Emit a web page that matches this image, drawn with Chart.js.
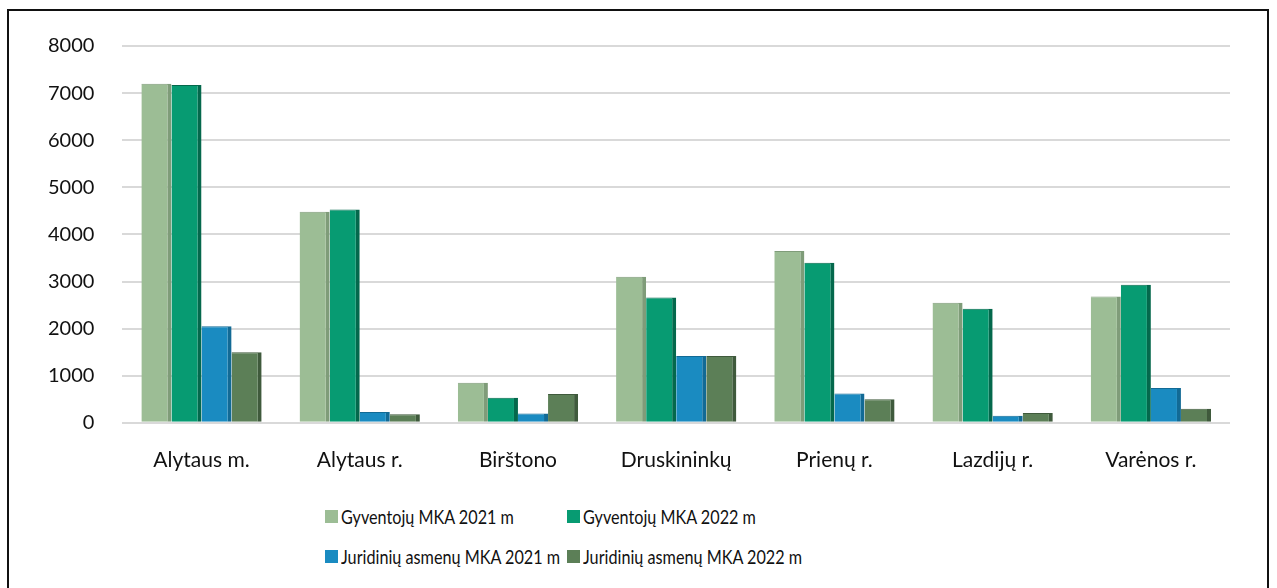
<!DOCTYPE html>
<html>
<head>
<meta charset="utf-8">
<script src="https://cdn.jsdelivr.net/npm/chart.js@4.4.1/dist/chart.umd.min.js"></script>
<style>
    html, body { margin: 0; padding: 0; background: #fff; }
    body { width: 1277px; height: 588px; position: relative; overflow: hidden; font-family: Lato, sans-serif; }
    .frame { position: absolute; left: 7px; top: 9px; width: 1262px; height: 600px; border: 2px solid #111; box-sizing: border-box; }
    .chart-wrap { position: absolute; left: 0; top: 0; width: 1277px; height: 498px; }
    .legend { position: absolute; left: 325px; top: 503px; display: grid; grid-template-columns: 242px 300px; row-gap: 14px; }
    .legend-item { display: flex; align-items: center; font-size: 20px; color: #111; height: 26px; white-space: nowrap; }
    .legend-box { width: 13px; height: 13px; margin-right: 3px; flex: none; }
    .legend-text { display: inline-block; transform: scaleX(0.81); transform-origin: left center; }
</style>
</head>
<body>
<div class="frame"></div>
<div class="chart-wrap"><canvas id="mkaChart"></canvas></div>
<div class="legend" id="mkaLegend"></div>
<script>
    const categories = ['Alytaus m.', 'Alytaus r.', 'Birštono', 'Druskininkų', 'Prienų r.', 'Lazdijų r.', 'Varėnos r.'];
    const seriesLabels = ['Gyventojų MKA 2021 m', 'Gyventojų MKA 2022 m', 'Juridinių asmenų MKA 2021 m', 'Juridinių asmenų MKA 2022 m'];
    const gyv2021 = [7200, 4480, 850, 3100, 3650, 2550, 2680];
    const gyv2022 = [7170, 4530, 530, 2660, 3400, 2420, 2930];
    const jur2021 = [2050, 230, 200, 1420, 620, 150, 740];
    const jur2022 = [1500, 180, 610, 1420, 500, 210, 300];
    const yTicks = [0, 1000, 2000, 3000, 4000, 5000, 6000, 7000, 8000];

    const fills = ['#9cbd95', '#079b72', '#1a8bc1', '#5c7f57'];
    const sides = ['#7f9c79', '#04684c', '#126a95', '#3f5a3c'];

    const datasets = [gyv2021, gyv2022, jur2021, jur2022].map(function(values, i) {
        return {
            label: seriesLabels[i],
            data: values,
            backgroundColor: fills[i],
            borderColor: sides[i],
            borderWidth: { top: 1, right: 4, bottom: 0, left: 0 },
            borderSkipped: 'bottom',
            categoryPercentage: 0.76,
            barPercentage: 1
        };
    });

    const chart = new Chart(document.getElementById('mkaChart'), {
        type: 'bar',
        data: { labels: categories, datasets: datasets },
        options: {
            responsive: true,
            maintainAspectRatio: false,
            animation: false,
            layout: { padding: { left: 20, right: 47, top: 46, bottom: 8 } },
            plugins: { legend: { display: false }, tooltip: { enabled: false } },
            scales: {
                y: {
                    min: 0,
                    max: 8000,
                    afterBuildTicks: function(axis) {
                        axis.ticks = yTicks.map(function(v) { return { value: v }; });
                    },
                    border: { display: false },
                    grid: { color: '#d9d9d9', lineWidth: 2, drawTicks: false },
                    ticks: {
                        color: '#111',
                        padding: 28,
                        font: { family: 'Lato', size: 20 },
                        callback: function(value) { return String(value); }
                    }
                },
                x: {
                    border: { display: false },
                    grid: { display: false },
                    ticks: { color: '#111', padding: 17, font: { family: 'Lato', size: 21 } }
                }
            }
        }
    });

    const legendEl = document.getElementById('mkaLegend');
    chart.data.datasets.forEach(function(ds) {
        const item = document.createElement('div');
        item.className = 'legend-item';
        const box = document.createElement('span');
        box.className = 'legend-box';
        box.style.background = ds.backgroundColor;
        const text = document.createElement('span');
        text.className = 'legend-text';
        text.textContent = ds.label;
        item.appendChild(box);
        item.appendChild(text);
        legendEl.appendChild(item);
    });
</script>
</body>
</html>
